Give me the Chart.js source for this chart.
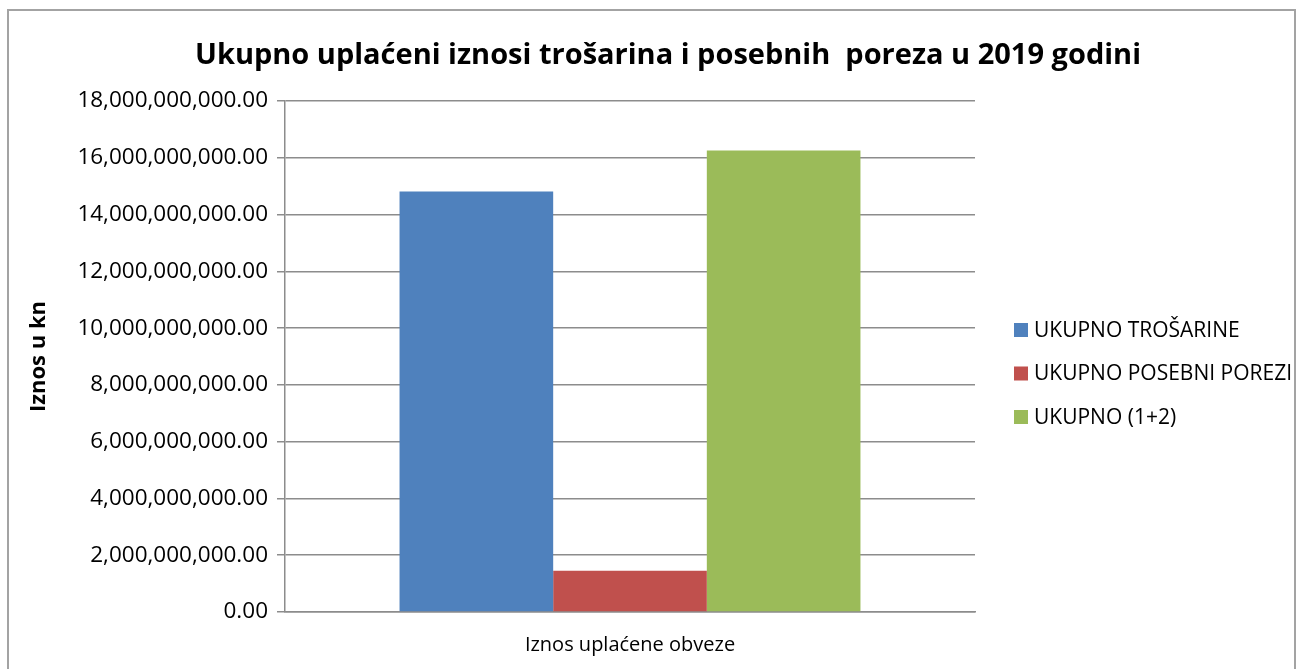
<!DOCTYPE html>
<html>
<head>
<meta charset="utf-8">
<script src="https://cdn.jsdelivr.net/npm/chart.js@4.4.1/dist/chart.umd.min.js"></script>
<style>
  html, body { margin: 0; padding: 0; background: #ffffff; }
  #wrap { position: relative; width: 1305px; height: 669px; overflow: hidden; }
  #frame { position: absolute; left: 7px; top: 9px; width: 1289px; height: 700px; border: 2px solid #a3a3a3; box-sizing: border-box; }
  #c { position: absolute; left: 0; top: 0; }
</style>
</head>
<body>
<div id="wrap">
  <div id="frame"></div>
  <canvas id="c" width="1305" height="669"></canvas>
</div>
<script>
const titleText = 'Ukupno uplaćeni iznosi trošarina i posebnih  poreza u 2019 godini';
const yAxisTitle = 'Iznos u kn';
const categories = ['Iznos uplaćene obveze'];
const seriesLabels = ['UKUPNO TROŠARINE', 'UKUPNO POSEBNI POREZI', 'UKUPNO (1+2)'];
const trosarine = [14810000000];
const posebniPorezi = [1450000000];
const ukupno = [16260000000];
const yMin = 0;
const yMax = 18000000000;
const yStep = 2000000000;
const seriesColors = ['#4F81BD', '#C0504D', '#9BBB59'];

const FONT = "'Open Sans', 'DejaVu Sans', sans-serif";
const gridColor = '#8c8c8c';

const fmt = new Intl.NumberFormat('en-US', { minimumFractionDigits: 2, maximumFractionDigits: 2 });

// Title centred on the whole chart box (not only the plot), as in the original
const titlePlugin = {
  id: 'wideTitle',
  afterDraw(chart) {
    const ctx = chart.ctx;
    ctx.save();
    ctx.font = 'bold 29px ' + FONT;
    ctx.fillStyle = '#000000';
    ctx.textAlign = 'center';
    ctx.textBaseline = 'middle';
    ctx.fillText(titleText, 668, 56);
    ctx.restore();
  }
};

const legendPlugin = {
  id: 'rightLegend',
  afterDraw(chart) {
    const ctx = chart.ctx;
    const area = chart.chartArea;
    ctx.save();
    ctx.font = '21px ' + FONT;
    ctx.textBaseline = 'middle';
    ctx.textAlign = 'left';
    chart.data.datasets.forEach((ds, i) => {
      const cy = 330 + i * 43.5;
      const bx = area.right + 39;
      ctx.fillStyle = ds.backgroundColor;
      ctx.fillRect(bx, cy - 7, 14, 14);
      ctx.fillStyle = '#000000';
      ctx.fillText(ds.label, bx + 20, cy + 1);
    });
    ctx.restore();
  }
};

const datasets = [trosarine, posebniPorezi, ukupno].map((vals, i) => ({
  label: seriesLabels[i],
  data: vals,
  backgroundColor: seriesColors[i],
  borderWidth: 0,
  categoryPercentage: 0.668,
  barPercentage: 1.0
}));

new Chart(document.getElementById('c'), {
  type: 'bar',
  data: { labels: categories, datasets },
  plugins: [titlePlugin, legendPlugin],
  options: {
    responsive: false,
    animation: false,
    layout: { padding: { left: 20, right: 330, top: 101, bottom: 13 } },
    plugins: {
      legend: { display: false },
      tooltip: { enabled: false },
      title: { display: false }
    },
    scales: {
      x: {
        afterFit(scale) { scale.height = 44; },
        grid: { display: false, drawTicks: false },
        border: { display: true, color: gridColor, width: 1.5 },
        ticks: { color: '#000000', font: { family: FONT, size: 20 }, padding: 21 }
      },
      y: {
        min: yMin,
        max: yMax,
        afterFit(scale) { scale.width = 265; },
        grid: { color: gridColor, lineWidth: 1.5, tickLength: 8, drawTicks: true },
        border: { display: true, color: gridColor, width: 1.5 },
        ticks: {
          stepSize: yStep,
          color: '#000000',
          font: { family: FONT, size: 22.5 },
          padding: 9,
          callback: (v) => fmt.format(v)
        },
        title: {
          display: true,
          text: yAxisTitle,
          color: '#000000',
          font: { family: FONT, size: 22, weight: 'bold' },
          padding: { top: 6, bottom: 0 }
        }
      }
    }
  }
});
</script>
</body>
</html>
